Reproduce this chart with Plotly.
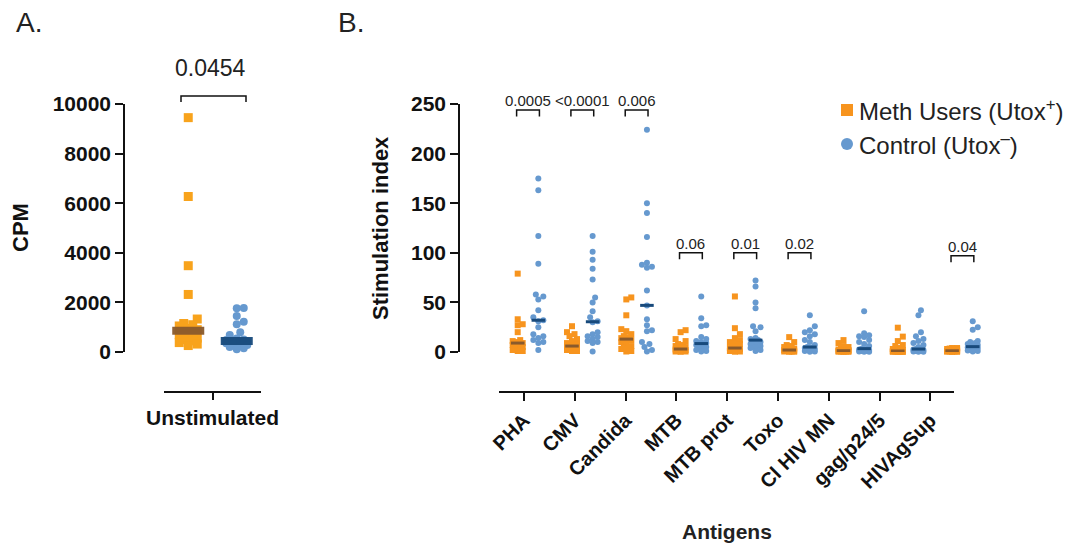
import numpy as np
import plotly.graph_objects as go

W, H = 1079, 543

# ---------------- data ----------------
# Panel A: unstimulated CPM
cpm_meth = [9450, 6270, 3480, 2320, 1330, 1150, 1100, 1050, 950, 900, 820,
            750, 700, 620, 560, 500, 450, 380, 320, 260]
cpm_control = [1770, 1760, 1450, 1220, 1115, 800, 690, 540, 500, 480, 460,
               443, 430, 420, 400, 380, 350, 320, 280, 240, 200, 150, 110]

# Panel B: stimulation index per antigen
antigens = ["PHA", "CMV", "Candida", "MTB", "MTB prot", "Toxo",
            "Cl HIV MN", "gag/p24/5", "HIVAgSup"]

pha_meth = [79, 33, 28, 27, 20, 12, 11, 10, 9, 9, 8, 7, 6, 5, 4, 3, 2, 1, 1]
pha_ctrl = [175, 163, 117, 89, 58, 56, 53, 42, 35, 32, 31, 25, 18, 16, 14, 12, 10, 9, 2]
cmv_meth = [26, 20, 18, 16, 13, 11, 9, 8, 7, 6, 6, 5, 4, 3, 3, 2, 2, 1, 1]
cmv_ctrl = [117, 101, 93, 84, 73, 55, 50, 41, 35, 31, 30, 20, 18, 16, 15, 13, 11, 10, 9, 0.5]
candida_meth = [55, 53, 37, 23, 21, 18, 16, 15, 14, 13, 12, 10, 8, 6, 5, 4, 3, 1, 0.5]
candida_ctrl = [224, 150, 140, 116, 90, 88, 86, 85, 62, 47, 33, 27, 22, 21, 10, 8, 5, 2, 0.5]
mtb_meth = [22, 20, 13, 11, 8, 7, 6, 5, 4, 3, 3, 2.5, 2, 1.5, 1, 1, 0.5, 0.5, 0.2]
mtb_ctrl = [56, 34, 27, 26, 15, 13, 11, 10, 9, 8.5, 8, 7, 6, 5, 4, 3, 2, 1, 0.5]
mtbprot_meth = [56, 24, 18, 14, 12, 10, 9, 8, 6, 4, 4, 3, 3, 2, 2, 1, 1, 0.5, 0.3]
mtbprot_ctrl = [72, 66, 50, 44, 26, 25, 21, 14, 13, 12, 11, 10, 9, 8, 6, 5, 4, 2, 1]
toxo_meth = [15, 10, 7, 6, 5, 4, 3.5, 3, 2.5, 2, 2, 1.5, 1.5, 1, 1, 0.5, 0.5, 0.3, 0.2]
toxo_ctrl = [37, 26, 22, 20, 18, 16, 12, 10, 7, 5, 4.5, 4, 3, 3, 2, 1.5, 1, 0.5, 0.3]
clhiv_meth = [12, 9, 6, 5, 4, 3, 2.5, 2, 1.5, 1.3, 1.2, 1, 1, 0.8, 0.5, 0.5, 0.3, 0.2, 0.1]
clhiv_ctrl = [41, 19, 17, 16, 15, 12, 10, 8, 6, 3.4, 3, 2.5, 2, 1.5, 1, 1, 0.5, 0.3, 0.2]
gag_meth = [24.5, 15.5, 11, 7, 6, 4, 3, 2, 1.5, 1, 1, 0.8, 0.5, 0.5, 0.4, 0.3, 0.2, 0.1, 0.1]
gag_ctrl = [42, 37, 20, 16, 13, 11, 9, 7, 5, 3, 3, 2.5, 2, 1.5, 1, 1, 0.5, 0.3, 0.2]
hivag_meth = [4, 4, 3.5, 3, 3, 2.5, 2, 1.5, 1.2, 1, 1, 0.8, 0.5, 0.5, 0.3, 0.2, 0.1]
hivag_ctrl = [31, 25, 22.5, 11, 10, 9, 8, 7, 6, 5.4, 5, 4.5, 4, 3, 2.5, 2, 1.5, 1, 0.5]

meth_groups = [pha_meth, cmv_meth, candida_meth, mtb_meth, mtbprot_meth,
               toxo_meth, clhiv_meth, gag_meth, hivag_meth]
ctrl_groups = [pha_ctrl, cmv_ctrl, candida_ctrl, mtb_ctrl, mtbprot_ctrl,
               toxo_ctrl, clhiv_ctrl, gag_ctrl, hivag_ctrl]

p_text = ["0.0005", "<0.0001", "0.006", "0.06", "0.01", "0.02", None, None, "0.04"]
p_level = [244, 244, 244, 100, 100, 100, None, None, 97]
p_text_A = "0.0454"

# ---------------- styling ----------------
ORANGE_A = "#F8A31C"
ORANGE_B = "#F7941E"
BLUE = "#6699CF"
BROWN = "#8A5A2C"
NAVY = "#184A7C"
FONT = "Arial, Liberation Sans, sans-serif"


def px(x):
    return x / W


def py(y):
    return 1 - y / H


def swarm(vals, size, ypx, cap, step):
    vals = np.asarray(vals, dtype=float)
    order = np.argsort(vals)
    cands = [0.0]
    k = 1
    while k * step <= cap + 1e-9:
        cands += [k * step, -k * step]
        k += 1
    placed = []
    off = np.zeros(len(vals))
    for i in order:
        y = vals[i] * ypx
        best, bestd = 0.0, -1.0
        for c in cands:
            d = min([np.hypot(c - a, y - b) for a, b in placed], default=1e9)
            if d >= size:
                best = c
                break
            if d > bestd:
                bestd, best = d, c
        off[i] = best
        placed.append((best, y))
    return off


fig = go.Figure()

# ---------------- Panel A ----------------
xA_px = 97 / 2.0          # px per x unit
yA_px = 248 / 10000.0     # px per y unit
offA_m = swarm(cpm_meth, 8, yA_px, 9, 4.5)
offA_c = swarm(cpm_control, 7, yA_px, 13, 3.5)
fig.add_trace(go.Scatter(x=-0.5 + offA_m / xA_px, y=cpm_meth, mode="markers",
                         marker=dict(symbol="square", size=9, color=ORANGE_A, line_width=0),
                         xaxis="x", yaxis="y", cliponaxis=False, showlegend=False, hoverinfo="y"))
fig.add_trace(go.Scatter(x=0.5 + offA_c / xA_px, y=cpm_control, mode="markers",
                         marker=dict(symbol="circle", size=8, color=BLUE, line_width=0),
                         xaxis="x", yaxis="y", cliponaxis=False, showlegend=False, hoverinfo="y"))
for c, vals, col in [(-0.5, cpm_meth, BROWN), (0.5, cpm_control, NAVY)]:
    m = float(np.median(vals))
    fig.add_trace(go.Scatter(x=[c - 0.33, c + 0.33], y=[m, m], mode="lines",
                             line=dict(color=col, width=8), opacity=0.95,
                             xaxis="x", yaxis="y", cliponaxis=False, showlegend=False, hoverinfo="skip"))

# ---------------- Panel B ----------------
xB_px = 541 / 9.963
yB_px = 248 / 250.0
dx = 0.19
for i, (mv, cv) in enumerate(zip(meth_groups, ctrl_groups)):
    om = swarm(mv, 5.5, yB_px, 7, 2.5)
    oc = swarm(cv, 5, yB_px, 7, 2.5)
    fig.add_trace(go.Scatter(x=i - dx + om / xB_px, y=mv, mode="markers",
                             marker=dict(symbol="square", size=6, color=ORANGE_B, line_width=0),
                             xaxis="x2", yaxis="y2", cliponaxis=False, showlegend=False, hoverinfo="y"))
    fig.add_trace(go.Scatter(x=i + dx + oc / xB_px, y=cv, mode="markers",
                             marker=dict(symbol="circle", size=6, color=BLUE, line_width=0),
                             xaxis="x2", yaxis="y2", cliponaxis=False, showlegend=False, hoverinfo="y"))
for i, (mv, cv) in enumerate(zip(meth_groups, ctrl_groups)):
    for c, vals, col in [(i - dx, mv, BROWN), (i + dx, cv, NAVY)]:
        m = float(np.median(vals))
        fig.add_trace(go.Scatter(x=[c - 0.125, c + 0.125], y=[m, m], mode="lines",
                                 line=dict(color=col, width=3),
                                 xaxis="x2", yaxis="y2", cliponaxis=False, showlegend=False, hoverinfo="skip"))

# dummy trace to create the label axis for panel B
fig.add_trace(go.Scatter(x=[None], y=[None], xaxis="x3", yaxis="y2", showlegend=False, hoverinfo="skip"))

shapes = []
annotations = []

# brackets panel B
for i, (t, lv) in enumerate(zip(p_text, p_level)):
    if t is None:
        continue
    x0, x1 = i - 0.21, i + 0.21
    shapes.append(dict(type="path", xref="x2", yref="y2",
                       path=f"M {x0},{lv - 6.5} L {x0},{lv} L {x1},{lv} L {x1},{lv - 6.5}",
                       line=dict(color="#111", width=1.5)))
    annotations.append(dict(x=i, y=lv, xref="x2", yref="y2", text=t, showarrow=False,
                            xanchor="center", yanchor="bottom", yshift=-1,
                            font=dict(family=FONT, size=15, color="#222")))

# bracket panel A (above the axis range, so in paper coordinates)
shapes.append(dict(type="path", xref="paper", yref="paper",
                   path=f"M {px(181)},{py(102)} L {px(181)},{py(96)} L {px(246)},{py(96)} L {px(246)},{py(102)}",
                   line=dict(color="#111", width=1.5)))
annotations.append(dict(x=px(210), y=py(68), xref="paper", yref="paper", text=p_text_A, showarrow=False,
                        xanchor="center", yanchor="middle",
                        font=dict(family=FONT, size=23, color="#222")))

# panel letters
annotations.append(dict(x=px(14), y=py(22), xref="paper", yref="paper", text="A.", showarrow=False,
                        xanchor="left", yanchor="middle", font=dict(family=FONT, size=28, color="#222")))
annotations.append(dict(x=px(336), y=py(22), xref="paper", yref="paper", text="B.", showarrow=False,
                        xanchor="left", yanchor="middle", font=dict(family=FONT, size=28, color="#222")))

# axis titles
annotations.append(dict(x=px(20), y=py(228), xref="paper", yref="paper", text="CPM", textangle=-90,
                        showarrow=False, xanchor="center", yanchor="middle",
                        font=dict(family=FONT, size=22, color="#111", weight="bold")))
annotations.append(dict(x=px(380), y=py(228), xref="paper", yref="paper", text="Stimulation index",
                        textangle=-90, showarrow=False, xanchor="center", yanchor="middle",
                        font=dict(family=FONT, size=22, color="#111", weight="bold")))
annotations.append(dict(x=px(727), y=py(531), xref="paper", yref="paper", text="Antigens",
                        showarrow=False, xanchor="center", yanchor="middle",
                        font=dict(family=FONT, size=21, color="#222", weight="bold")))

# legend
shapes.append(dict(type="rect", xref="paper", yref="paper", x0=px(841), x1=px(853), y0=py(116), y1=py(104),
                   fillcolor=ORANGE_B, line_width=0))
shapes.append(dict(type="circle", xref="paper", yref="paper", x0=px(841), x1=px(853), y0=py(150), y1=py(138),
                   fillcolor=BLUE, line_width=0))
annotations.append(dict(x=px(857), y=py(110), xref="paper", yref="paper",
                        text="Meth Users (Utox<sup>+</sup>)", showarrow=False,
                        xanchor="left", yanchor="middle", font=dict(family=FONT, size=24, color="#222")))
annotations.append(dict(x=px(857), y=py(144), xref="paper", yref="paper",
                        text="Control (Utox<sup>\u2013</sup>)", showarrow=False,
                        xanchor="left", yanchor="middle", font=dict(family=FONT, size=24, color="#222")))

ydom = [py(352), py(104)]
tickfont = dict(family=FONT, size=21, color="#111", weight="bold")
axline = dict(showline=True, linecolor="#111", linewidth=1.5, ticks="outside",
              tickcolor="#111", tickwidth=1.5, showgrid=False, zeroline=False, automargin=False)

fig.update_layout(
    width=W, height=H, autosize=False,
    margin=dict(l=0, r=0, t=0, b=0, autoexpand=False),
    paper_bgcolor="white", plot_bgcolor="rgba(0,0,0,0)",
    showlegend=False,
    xaxis=dict(domain=[px(164), px(261)], range=[-1, 1], anchor="free", position=py(392),
               tickvals=[0], ticktext=["Unstimulated"], ticklen=7,
               tickfont=dict(family=FONT, size=21, color="#111", weight="bold"), **axline),
    yaxis=dict(domain=ydom, range=[0, 10000], anchor="free", position=px(124), tickformat="d",
               tickvals=[0, 2000, 4000, 6000, 8000, 10000], ticklen=8, tickfont=tickfont, **axline),
    xaxis2=dict(domain=[px(459), px(1000)], range=[-1.271, 8.692], visible=False, anchor="y2",
                automargin=False),
    yaxis2=dict(domain=ydom, range=[0, 250], anchor="free", position=px(459),
                tickvals=[0, 50, 100, 150, 200, 250], ticklen=8, tickfont=tickfont, **axline),
    xaxis3=dict(domain=[px(499), px(954)], range=[-0.492, 8.465], anchor="free", position=py(392),
                tickvals=list(range(len(antigens))), ticktext=antigens, tickangle=-45, ticklen=8,
                tickfont=dict(family=FONT, size=20, color="#111", weight="bold"), **axline),
    shapes=shapes,
    annotations=annotations,
)

fig.write_html("out.html", config={"displayModeBar": False},
               post_script="document.body.style.margin='0px';")
